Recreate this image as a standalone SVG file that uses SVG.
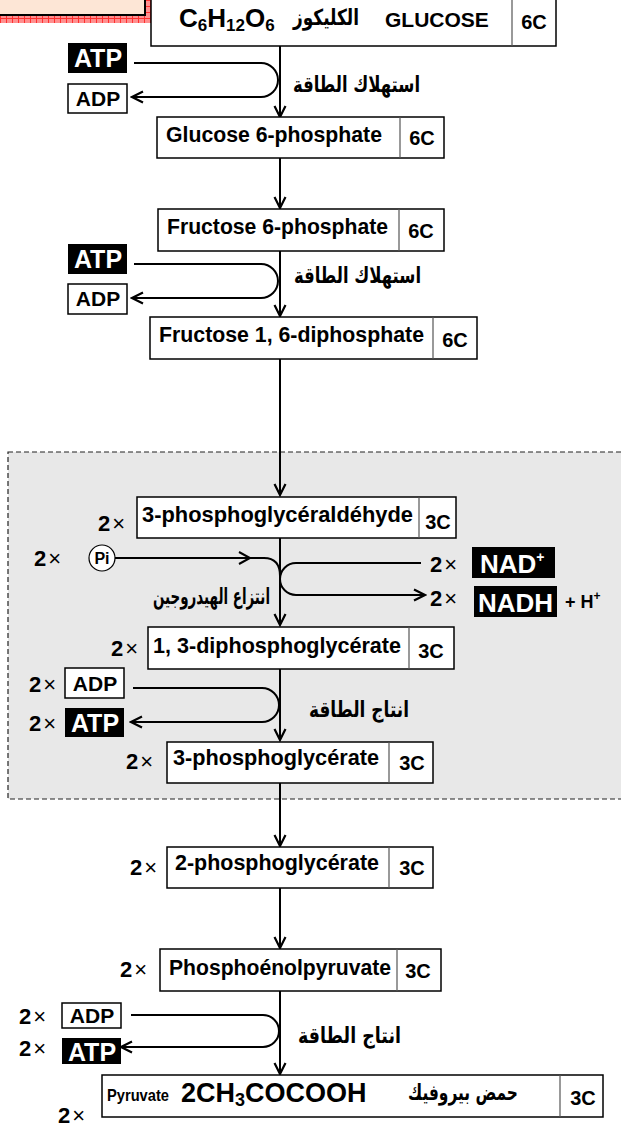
<svg xmlns="http://www.w3.org/2000/svg" width="621" height="1131" viewBox="0 0 621 1131">
<defs>
<pattern id="grid" width="6" height="6" patternUnits="userSpaceOnUse"><rect width="6" height="6" fill="#ff8f8f"/><path d="M0,0.5H6M0.5,0V6" stroke="#ff3030" stroke-width="1"/></pattern>
<marker id="ah" viewBox="0 0 14 14" refX="12" refY="7" markerWidth="14" markerHeight="14" markerUnits="userSpaceOnUse" orient="auto"><path d="M1,1.5 L12,7 L1,12.5" fill="none" stroke="#000" stroke-width="2.2"/></marker>
</defs>
<style>
.t{font-family:"Liberation Sans","DejaVu Sans",sans-serif;font-weight:bold;fill:#000}
.n{font-size:22px}
.c{font-size:20px}
.box{fill:#fff;stroke:#000;stroke-width:1.5}
.dv{stroke:#555;stroke-width:1.2}
.ln{fill:none;stroke:#000;stroke-width:2}
.blk{fill:#000}
.wb{fill:#fff;stroke:#000;stroke-width:1.5}
.wt{fill:#fff}
.ar{font-family:"DejaVu Sans",sans-serif;font-weight:bold;font-size:22px;fill:#000}
.x{font-family:"Liberation Sans",sans-serif;font-size:22px;fill:#000}
.e{font-size:25px}
.d{font-size:21px}
</style>
<rect width="621" height="1131" fill="#fff"/>

<g id="title">
<rect x="0" y="-6" width="152" height="29" fill="url(#grid)"/>
<rect x="-2" y="-6" width="147" height="21" fill="#fde6d6" stroke="#000" stroke-width="2"/>
</g>

<g id="region">
<rect x="8" y="452" width="630" height="347" fill="#e8e8e8" stroke="#222" stroke-width="1.2" stroke-dasharray="5 3"/>
</g>

<g id="connectors">
<line class="ln" x1="280" y1="46" x2="280" y2="117" marker-end="url(#ah)"/>
<path class="ln" d="M134,63 H261 A17 17 0 0 1 261,97 H132" marker-end="url(#ah)"/>
<line class="ln" x1="280" y1="158" x2="280" y2="208" marker-end="url(#ah)"/>
<line class="ln" x1="280" y1="251" x2="280" y2="316" marker-end="url(#ah)"/>
<path class="ln" d="M134,264 H261 A17 17 0 0 1 261,298 H132" marker-end="url(#ah)"/>
<line class="ln" x1="280" y1="359" x2="280" y2="495" marker-end="url(#ah)"/>
<line class="ln" x1="280" y1="538" x2="280" y2="625" marker-end="url(#ah)"/>
<path class="ln" d="M115,558 H264 Q280,558 280,576"/>
<path class="ln" d="M239,552 L250,558 L239,564"/>
<path class="ln" d="M421,563 H296 A16 16 0 0 0 296,595 H425" marker-end="url(#ah)"/>
<line class="ln" x1="280" y1="669" x2="280" y2="740" marker-end="url(#ah)"/>
<path class="ln" d="M133,688 H262 A17 17 0 0 1 262,722 H131" marker-end="url(#ah)"/>
<line class="ln" x1="280" y1="783" x2="280" y2="846" marker-end="url(#ah)"/>
<line class="ln" x1="280" y1="888" x2="280" y2="948" marker-end="url(#ah)"/>
<line class="ln" x1="280" y1="991" x2="280" y2="1074" marker-end="url(#ah)"/>
<path class="ln" d="M131,1015 H263 A16 16 0 0 1 263,1047 H121" marker-end="url(#ah)"/>
</g>

<g id="glucose">
<rect class="box" x="151" y="-10" width="405" height="56"/>
<line class="dv" x1="512" y1="-10" x2="512" y2="46"/>
<text class="t" x="179" y="27" font-size="26">C<tspan font-size="17" dy="4">6</tspan><tspan dy="-4">H</tspan><tspan font-size="17" dy="4">12</tspan><tspan dy="-4">O</tspan><tspan font-size="17" dy="4">6</tspan></text>
<text class="ar" x="293" y="25" textLength="66" lengthAdjust="spacingAndGlyphs" font-size="23">الكليكوز</text>
<text class="t" x="385" y="27" font-size="21">GLUCOSE</text>
<text class="t c" x="534" y="29" text-anchor="middle">6C</text>
</g>

<g id="atp1"><rect class="blk" x="68" y="43" width="59" height="30"/><text class="t wt e" x="98" y="67" text-anchor="middle">ATP</text></g>
<g id="adp1"><rect class="wb" x="68" y="84" width="59" height="29"/><text class="t d" x="98" y="106" text-anchor="middle">ADP</text></g>
<text class="ar" x="293" y="92" textLength="127" lengthAdjust="spacingAndGlyphs">استهلاك الطاقة</text>

<g id="g6p">
<rect class="box" x="157" y="117" width="287" height="41"/>
<line class="dv" x1="400" y1="117" x2="400" y2="158"/>
<text class="t n" x="166" y="142" textLength="216" lengthAdjust="spacingAndGlyphs">Glucose 6-phosphate</text>
<text class="t c" x="422" y="145" text-anchor="middle">6C</text>
</g>

<g id="f6p">
<rect class="box" x="158" y="209" width="286" height="42"/>
<line class="dv" x1="399" y1="209" x2="399" y2="251"/>
<text class="t n" x="167" y="234" textLength="221" lengthAdjust="spacingAndGlyphs">Fructose 6-phosphate</text>
<text class="t c" x="421" y="238" text-anchor="middle">6C</text>
</g>

<g id="atp2"><rect class="blk" x="68" y="244" width="59" height="30"/><text class="t wt e" x="98" y="268" text-anchor="middle">ATP</text></g>
<g id="adp2"><rect class="wb" x="68" y="284" width="59" height="30"/><text class="t d" x="98" y="306" text-anchor="middle">ADP</text></g>
<text class="ar" x="294" y="283" textLength="127" lengthAdjust="spacingAndGlyphs">استهلاك الطاقة</text>

<g id="f16dp">
<rect class="box" x="150" y="317" width="327" height="42"/>
<line class="dv" x1="433" y1="317" x2="433" y2="359"/>
<text class="t n" x="159" y="342" textLength="265" lengthAdjust="spacingAndGlyphs">Fructose 1, 6-diphosphate</text>
<text class="t c" x="455" y="347" text-anchor="middle">6C</text>
</g>

<g id="g3p">
<text class="x" x="98" y="531"><tspan font-weight="bold">2</tspan><tspan dx="2">×</tspan></text>
<rect class="box" x="137" y="497" width="319" height="41"/>
<line class="dv" x1="419" y1="497" x2="419" y2="538"/>
<text class="t n" x="142" y="522" textLength="271" lengthAdjust="spacingAndGlyphs">3-phosphoglycéraldéhyde</text>
<text class="t c" x="438" y="529" text-anchor="middle">3C</text>
</g>

<g id="pi">
<text class="x" x="34" y="566"><tspan font-weight="bold">2</tspan><tspan dx="2">×</tspan></text>
<circle cx="102" cy="558" r="13" fill="#fff" stroke="#000" stroke-width="1.2"/>
<text class="t" x="102" y="564" font-size="16" text-anchor="middle">Pi</text>
</g>
<g id="nad">
<text class="x" x="430" y="572"><tspan font-weight="bold">2</tspan><tspan dx="2">×</tspan></text>
<rect class="blk" x="472" y="547" width="83" height="31"/>
<text class="t wt" x="480" y="573" font-size="26">NAD<tspan font-size="14" dy="-11">+</tspan></text>
</g>
<g id="nadh">
<text class="x" x="430" y="606"><tspan font-weight="bold">2</tspan><tspan dx="2">×</tspan></text>
<rect class="blk" x="474" y="586" width="83" height="31"/>
<text class="t wt" x="478" y="612" font-size="26">NADH</text>
<text class="t" x="565" y="608" font-size="18">+ H<tspan font-size="12" dy="-8">+</tspan></text>
</g>
<text class="ar" x="153" y="604" textLength="117" lengthAdjust="spacingAndGlyphs">انتزاع الهيدروجين</text>

<g id="bpg">
<text class="x" x="111" y="656"><tspan font-weight="bold">2</tspan><tspan dx="2">×</tspan></text>
<rect class="box" x="148" y="627" width="306" height="42"/>
<line class="dv" x1="409" y1="627" x2="409" y2="669"/>
<text class="t n" x="153" y="653" textLength="248" lengthAdjust="spacingAndGlyphs">1, 3-diphosphoglycérate</text>
<text class="t c" x="431" y="658" text-anchor="middle">3C</text>
</g>
<g id="adp3"><text class="x" x="29" y="692"><tspan font-weight="bold">2</tspan><tspan dx="2">×</tspan></text><rect class="wb" x="65" y="668" width="59" height="30"/><text class="t d" x="95" y="691" text-anchor="middle">ADP</text></g>
<g id="atp3"><text class="x" x="29" y="731"><tspan font-weight="bold">2</tspan><tspan dx="2">×</tspan></text><rect class="blk" x="65" y="708" width="59" height="29"/><text class="t wt e" x="95" y="732" text-anchor="middle">ATP</text></g>
<text class="ar" x="309" y="717" textLength="100" lengthAdjust="spacingAndGlyphs">انتاج الطاقة</text>

<g id="pg3">
<text class="x" x="126" y="769"><tspan font-weight="bold">2</tspan><tspan dx="2">×</tspan></text>
<rect class="box" x="167" y="742" width="266" height="41"/>
<line class="dv" x1="389" y1="742" x2="389" y2="783"/>
<text class="t n" x="173" y="765" textLength="206" lengthAdjust="spacingAndGlyphs">3-phosphoglycérate</text>
<text class="t c" x="412" y="770" text-anchor="middle">3C</text>
</g>

<g id="pg2">
<text class="x" x="130" y="875"><tspan font-weight="bold">2</tspan><tspan dx="2">×</tspan></text>
<rect class="box" x="167" y="847" width="266" height="41"/>
<line class="dv" x1="389" y1="847" x2="389" y2="888"/>
<text class="t n" x="175" y="870" textLength="204" lengthAdjust="spacingAndGlyphs">2-phosphoglycérate</text>
<text class="t c" x="412" y="875" text-anchor="middle">3C</text>
</g>

<g id="pep">
<text class="x" x="120" y="977"><tspan font-weight="bold">2</tspan><tspan dx="2">×</tspan></text>
<rect class="box" x="160" y="949" width="281" height="42"/>
<line class="dv" x1="397" y1="949" x2="397" y2="991"/>
<text class="t n" x="169" y="975" textLength="222" lengthAdjust="spacingAndGlyphs">Phosphoénolpyruvate</text>
<text class="t c" x="418" y="978" text-anchor="middle">3C</text>
</g>
<g id="adp4"><text class="x" x="19" y="1024"><tspan font-weight="bold">2</tspan><tspan dx="2">×</tspan></text><rect class="wb" x="62" y="1003" width="59" height="25"/><text class="t d" x="92" y="1023" text-anchor="middle">ADP</text></g>
<g id="atp4"><text class="x" x="19" y="1056"><tspan font-weight="bold">2</tspan><tspan dx="2">×</tspan></text><rect class="blk" x="62" y="1038" width="59" height="26"/><text class="t wt e" x="92" y="1061" text-anchor="middle">ATP</text></g>
<text class="ar" x="298" y="1043" textLength="103" lengthAdjust="spacingAndGlyphs">انتاج الطاقة</text>

<g id="pyruvate">
<text class="x" x="58" y="1123"><tspan font-weight="bold">2</tspan><tspan dx="2">×</tspan></text>
<rect class="box" x="102" y="1075" width="501" height="42"/>
<line class="dv" x1="560" y1="1075" x2="560" y2="1117"/>
<text class="t" x="107" y="1101" font-size="17" textLength="62" lengthAdjust="spacingAndGlyphs">Pyruvate</text>
<text class="t" x="181" y="1102" font-size="27">2CH<tspan font-size="18" dy="4">3</tspan><tspan dy="-4">COCOOH</tspan></text>
<text class="ar" x="408" y="1100" font-size="25" textLength="110" lengthAdjust="spacingAndGlyphs">حمض بيروفيك</text>
<text class="t c" x="583" y="1105" text-anchor="middle">3C</text>
</g>
</svg>
